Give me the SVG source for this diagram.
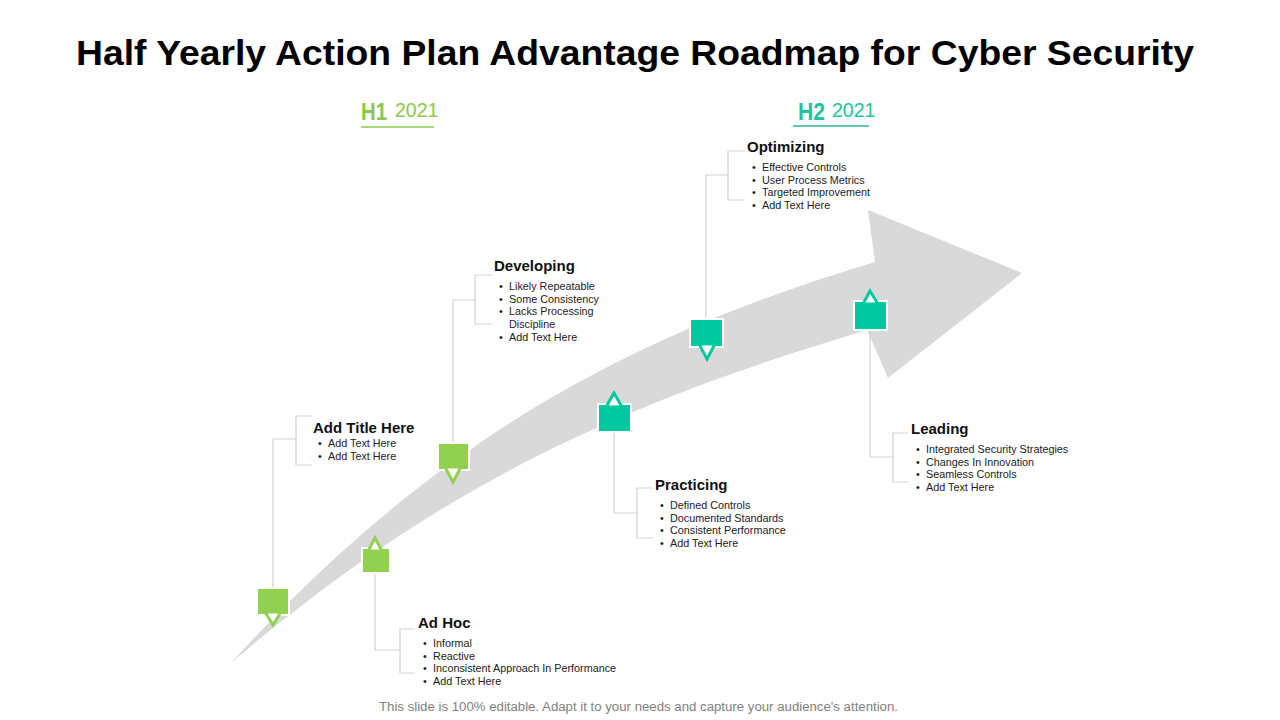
<svg xmlns="http://www.w3.org/2000/svg" width="1280" height="720" viewBox="0 0 1280 720">
<style>
.t{font-family:"Liberation Sans",Arial,sans-serif;}
.title{font-family:"Liberation Sans",Arial,sans-serif;font-weight:bold;font-size:35px;fill:#000;}
.hd{font-family:"Liberation Sans",Arial,sans-serif;font-weight:bold;font-size:15px;fill:#111;}
.bl{font-family:"Liberation Sans",Arial,sans-serif;font-size:10.8px;fill:#222;}
.ln{fill:none;stroke:#d3d3d3;stroke-width:1.2;}
.g{fill:#92d050;stroke:#fff;stroke-width:2;}
.tq{fill:#00c99f;stroke:#fff;stroke-width:2;}
.gt{fill:#fff;stroke:#92d050;stroke-width:3;stroke-linejoin:miter;}
.tt{fill:#fff;stroke:#00c99f;stroke-width:3;stroke-linejoin:miter;}
</style>
<rect width="1280" height="720" fill="#fff"/>
<text class="title" x="635" y="65" text-anchor="middle" textLength="1118" lengthAdjust="spacingAndGlyphs">Half Yearly Action Plan Advantage Roadmap for Cyber Security</text>

<g id="h1">
<text class="t" x="361" y="120" font-size="23" font-weight="bold" fill="#8cc84b" textLength="26" lengthAdjust="spacingAndGlyphs">H1</text>
<text class="t" x="395" y="117" font-size="19.5" fill="#8cc84b">2021</text>
<line x1="361" y1="127" x2="434" y2="127" stroke="#8cc84b" stroke-width="1.3"/>
</g>
<g id="h2">
<text class="t" x="798" y="120" font-size="23" font-weight="bold" fill="#1cc4a0" textLength="27" lengthAdjust="spacingAndGlyphs">H2</text>
<text class="t" x="832" y="117" font-size="19.5" fill="#1cc4a0">2021</text>
<line x1="793" y1="126" x2="869" y2="126" stroke="#2bb3a0" stroke-width="1.3"/>
</g>

<g id="arrow">
<path d="M232,662 C432,442 625,337 875,262 L868,210 L1022,273 L888,378 L867,330 C637,399 452,475 232,662 Z" fill="#d9d9d9"/>
</g>

<g id="connectors">
<polyline class="ln" points="273,589 273,439 296,439"/>
<polyline class="ln" points="312,416 296,416 296,465 312,465"/>
<polyline class="ln" points="375,573 375,650 400,650"/>
<polyline class="ln" points="415,629 400,629 400,673 415,673"/>
<polyline class="ln" points="453,443 453,300 475,300"/>
<polyline class="ln" points="492,275 475,275 475,324 492,324"/>
<polyline class="ln" points="614,430 614,513 637,513"/>
<polyline class="ln" points="653,488 637,488 637,538 653,538"/>
<polyline class="ln" points="706,319 706,175 728,175"/>
<polyline class="ln" points="745,151 728,151 728,200 745,200"/>
<polyline class="ln" points="870,330 870,457 893,457"/>
<polyline class="ln" points="908,433 893,433 893,482 908,482"/>
</g>

<g id="node-addtitle">
<rect class="g" x="257" y="588" width="32" height="27"/>
<polygon class="gt" points="265,612 281,612 273,625"/>
<text class="hd" x="313" y="433">Add  Title Here</text>
<text class="bl"><tspan x="318" y="447">•</tspan><tspan x="328" y="447">Add Text Here</tspan><tspan x="318" y="460">•</tspan><tspan x="328" y="460">Add Text Here</tspan></text>
</g>

<g id="node-adhoc">
<rect class="g" x="362" y="548" width="28" height="25"/>
<polygon class="gt" points="368,551 382,551 375,538"/>
<text class="hd" x="418" y="628">Ad  Hoc</text>
<text class="bl"><tspan x="423" y="647">•</tspan><tspan x="433" y="647">Informal</tspan><tspan x="423" y="660">•</tspan><tspan x="433" y="660">Reactive</tspan><tspan x="423" y="672">•</tspan><tspan x="433" y="672">Inconsistent Approach In Performance</tspan><tspan x="423" y="685">•</tspan><tspan x="433" y="685">Add Text Here</tspan></text>
</g>

<g id="node-developing">
<rect class="g" x="438" y="443" width="31" height="27"/>
<polygon class="gt" points="445,467 461,467 453,482"/>
<text class="hd" x="494" y="271">Developing</text>
<text class="bl"><tspan x="499" y="290">•</tspan><tspan x="509" y="290">Likely Repeatable</tspan><tspan x="499" y="303">•</tspan><tspan x="509" y="303">Some Consistency</tspan><tspan x="499" y="315">•</tspan><tspan x="509" y="315">Lacks Processing</tspan><tspan x="509" y="328">Discipline</tspan><tspan x="499" y="341">•</tspan><tspan x="509" y="341">Add Text Here</tspan></text>
</g>

<g id="node-practicing">
<rect class="tq" x="598" y="404" width="33" height="28"/>
<polygon class="tt" points="606,407 622,407 614,393"/>
<text class="hd" x="655" y="490">Practicing</text>
<text class="bl"><tspan x="660" y="509">•</tspan><tspan x="670" y="509">Defined Controls</tspan><tspan x="660" y="522">•</tspan><tspan x="670" y="522">Documented Standards</tspan><tspan x="660" y="534">•</tspan><tspan x="670" y="534">Consistent Performance</tspan><tspan x="660" y="547">•</tspan><tspan x="670" y="547">Add Text Here</tspan></text>
</g>

<g id="node-optimizing">
<rect class="tq" x="690" y="319" width="33" height="28"/>
<polygon class="tt" points="699,344 715,344 707,359"/>
<text class="hd" x="747" y="152">Optimizing</text>
<text class="bl"><tspan x="752" y="171">•</tspan><tspan x="762" y="171">Effective Controls</tspan><tspan x="752" y="184">•</tspan><tspan x="762" y="184">User Process Metrics</tspan><tspan x="752" y="196">•</tspan><tspan x="762" y="196">Targeted Improvement</tspan><tspan x="752" y="209">•</tspan><tspan x="762" y="209">Add Text Here</tspan></text>
</g>

<g id="node-leading">
<rect class="tq" x="854" y="301" width="33" height="29"/>
<polygon class="tt" points="863,304 878,304 870,291"/>
<text class="hd" x="911" y="434">Leading</text>
<text class="bl"><tspan x="916" y="453">•</tspan><tspan x="926" y="453">Integrated Security Strategies</tspan><tspan x="916" y="466">•</tspan><tspan x="926" y="466">Changes In Innovation</tspan><tspan x="916" y="478">•</tspan><tspan x="926" y="478">Seamless Controls</tspan><tspan x="916" y="491">•</tspan><tspan x="926" y="491">Add Text Here</tspan></text>
</g>

<text class="t" x="638.5" y="711" text-anchor="middle" font-size="12.3" fill="#7f7f7f" textLength="519" lengthAdjust="spacingAndGlyphs">This slide is 100% editable. Adapt it to your needs and capture your audience's attention.</text>
</svg>
